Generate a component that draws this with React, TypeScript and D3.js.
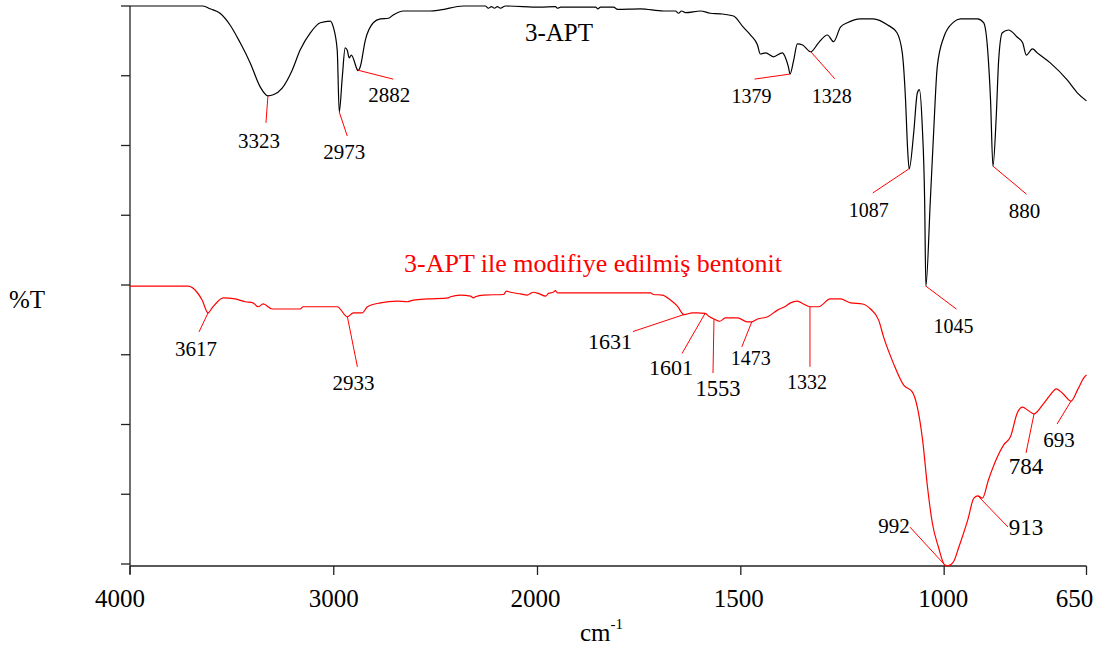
import React from 'react';
import * as d3 from 'd3';

// ---------- DATA ----------
const xTickValues = [4000, 3000, 2000, 1500, 1000, 650];
const xTickLabels = ['4000', '3000', '2000', '1500', '1000', '650'];
const yTickValues = [0, 12.5, 25, 37.5, 50, 62.5, 75, 87.5, 100];

const seriesNames = ['3-APT', '3-APT ile modifiye edilmiş bentonit'];
const yAxisTitle = '%T';
const xAxisTitle = 'cm';
const xAxisTitleSup = '-1';

// 3-APT spectrum: [wavenumber cm-1, %T]
const aptSpectrum: [number, number][] = [
  [4000, 100], [3641, 100], [3607, 99.5], [3558, 98.7], [3509, 96.6], [3459, 93.4], [3410, 89.8],
  [3361, 85.5], [3323, 83.9], [3297, 84.1], [3253, 85.3], [3204, 88.5], [3165, 92.1], [3115, 95.2],
  [3066, 97.0], [3017, 97.3], [3002, 96.2], [2983, 92.1], [2973, 81.0], [2958, 87.3], [2944, 92.5],
  [2934, 92.1], [2924, 90.7], [2914, 91.2], [2885, 88.6], [2882, 88.4], [2870, 89.1], [2845, 93.9],
  [2806, 97.0], [2771, 97.7], [2732, 97.8], [2708, 98.4], [2658, 99.1], [2526, 99.1], [2477, 99.3],
  [2364, 100], [2256, 100], [2241, 99.6], [2226, 99.9], [2211, 99.6], [2197, 99.9], [2182, 99.6],
  [2157, 100], [1993, 99.8], [1956, 99.9], [1951, 99.6], [1943, 99.8], [1857, 99.8], [1852, 99.5],
  [1845, 99.8], [1813, 99.8], [1803, 99.4], [1747, 99.5], [1690, 99.1], [1661, 99.1], [1653, 98.7],
  [1646, 99.1], [1636, 98.8], [1599, 99.1], [1575, 98.7], [1550, 98.6], [1518, 98.2], [1494, 96.2],
  [1476, 94.8], [1459, 93.0], [1452, 91.4], [1439, 91.6], [1420, 90.9], [1398, 91.6], [1390, 90.7],
  [1383, 89.1], [1379, 87.8], [1370, 90.3], [1361, 93.2], [1348, 93.0], [1328, 91.8], [1309, 93.4],
  [1287, 94.8], [1272, 93.6], [1255, 96.2], [1238, 97.0], [1206, 97.7], [1174, 97.7], [1139, 96.6],
  [1116, 95.2], [1103, 91.6], [1095, 83.2], [1090, 74.5], [1086, 70.8], [1075, 77.2], [1066, 84.4],
  [1061, 85.0], [1054, 78.7], [1048, 65.2], [1045, 49.8], [1034, 65.2], [1026, 77.2], [1017, 89.1],
  [1001, 94.4], [977, 97.1], [960, 97.7], [918, 97.7], [903, 97.0], [893, 92.1], [886, 83.2],
  [880, 71.3], [872, 80.1], [866, 90.3], [857, 95.2], [842, 95.7], [820, 94.4], [807, 93.4],
  [798, 91.2], [783, 92.3], [771, 91.6], [739, 89.8], [697, 86.7], [672, 84.4], [650, 83.0],
];

// Bentonite modified with 3-APT: [wavenumber cm-1, %T]
const bentonitSpectrum: [number, number][] = [
  [4000, 49.8], [3715, 49.8], [3671, 48.7], [3646, 47.3], [3617, 45.0], [3597, 45.9], [3568, 47.1],
  [3543, 47.7], [3484, 47.5], [3435, 47.0], [3396, 46.8], [3371, 46.1], [3346, 46.6], [3302, 45.7],
  [3165, 45.7], [3150, 46.1], [2983, 46.1], [2933, 44.3], [2904, 45.0], [2860, 45.0], [2835, 46.1],
  [2771, 46.8], [2688, 47.1], [2639, 47.0], [2609, 47.3], [2536, 47.5], [2437, 47.7], [2427, 47.9],
  [2378, 48.2], [2329, 48.0], [2314, 47.7], [2305, 47.9], [2265, 48.2], [2167, 48.3], [2152, 48.9],
  [2133, 48.7], [2084, 48.4], [2049, 48.2], [2034, 48.5], [2020, 48.7], [1998, 48.5], [1980, 48.0],
  [1973, 48.5], [1961, 48.7], [1956, 49.0], [1951, 48.6], [1722, 48.6], [1715, 48.3], [1693, 48.2],
  [1673, 47.3], [1656, 46.2], [1640, 44.7], [1619, 45.0], [1607, 45.0], [1588, 44.9], [1577, 44.3],
  [1566, 43.9], [1552, 43.5], [1538, 44.1], [1508, 44.1], [1484, 43.4], [1473, 43.4], [1459, 43.9],
  [1434, 44.3], [1410, 45.5], [1390, 46.2], [1378, 46.8], [1361, 47.1], [1346, 46.6], [1330, 46.1],
  [1309, 46.1], [1280, 47.5], [1255, 47.5], [1230, 46.8], [1201, 46.6], [1181, 45.7], [1161, 43.7],
  [1149, 40.7], [1125, 36.0], [1100, 32.1], [1078, 30.8], [1066, 28.1], [1053, 22.2], [1041, 13.8],
  [1029, 7.3], [1014, 3.0], [998, -0.2], [990, -0.3], [977, 0.4], [964, 3.0], [942, 7.9],
  [927, 11.8], [917, 12.2], [906, 11.8], [891, 15.1], [869, 19.2], [854, 21.3], [837, 22.8],
  [820, 27.1], [807, 28.1], [795, 27.6], [779, 26.9], [758, 28.5], [739, 30.3], [724, 31.4],
  [709, 30.6], [688, 29.2], [672, 31.2], [657, 33.3], [650, 33.9],
];

// Peak annotations (label text, wavenumber of the marked point, %T of the marked point)
const aptPeakLabels = ['3323', '2973', '2882', '1379', '1328', '1087', '1045', '880'];
const aptPeakWn = [3323, 2973, 2882, 1379, 1328, 1087, 1045, 880];
const aptPeakT = [83.9, 81.0, 88.5, 87.8, 91.8, 70.8, 49.8, 71.3];

const bentPeakLabels = ['3617', '2933', '1631', '1601', '1553', '1473', '1332', '992', '913', '784', '693'];
const bentPeakWn = [3617, 2933, 1640, 1588, 1566, 1473, 1330, 998, 917, 779, 688];
const bentPeakT = [45.0, 44.3, 44.7, 44.9, 43.9, 43.4, 46.1, -0.2, 12.2, 26.9, 29.2];

// ---------- LAYOUT ----------
const W = 1112;
const H = 651;
const FONT = '"Liberation Serif", "Times New Roman", serif';

// leader line end offset (dx, dy), label centre/baseline offset (dx, dy), font size
const aptPeakLayout = [
  [-2, 27, -9, 52, 21],
  [8, 24, 5, 47, 21],
  [35.5, 9, 31.5, 32, 21],
  [-35.5, 5, -38.5, 29, 20],
  [24, 27, 21, 51, 20],
  [-36, 24, -40, 48, 20],
  [30.6, 23, 27.6, 47, 20],
  [33.5, 28, 31.5, 52, 21],
];
const bentPeakLayout = [
  [-9, 19, -12, 43, 21],
  [10, 50, 6, 73, 21],
  [-51, 17, -74, 34, 22],
  [-23, 40, -34, 62, 22],
  [-1, 54, 4, 77, 22.5],
  [-10, 25, -1, 43, 20],
  [0, 60, -3, 82, 20],
  [-35, -38, -51, -32, 21],
  [30, 31, 48, 39, 23],
  [-8, 39, -8, 60, 23],
  [-14, 23, -12, 46, 21],
];
const xLabelDx = [-10, 0, -2, -2, -1, -12];

export default function App() {
  const x = d3.scaleLinear().domain([4000, 2000, 650]).range([130, 537.5, 1086.5]);
  const y = d3.scaleLinear().domain([0, 100]).range([564, 6]);
  const axisY = 566;
  const axisX = 130;

  const line = d3
    .line<[number, number]>()
    .x((d) => x(d[0]))
    .y((d) => y(d[1]))
    .curve(d3.curveMonotoneX);

  const renderPeaks = (
    labels: string[],
    wns: number[],
    ts: number[],
    layout: number[][],
    key: string
  ) =>
    labels.map((lab, i) => {
      const ax = x(wns[i]);
      const ay = y(ts[i]);
      const [ldx, ldy, tdx, tdy, fs] = layout[i];
      return (
        <g key={key + i}>
          <line x1={ax} y1={ay} x2={ax + ldx} y2={ay + ldy} stroke="#ff0000" strokeWidth={1} />
          <text
            x={ax + tdx}
            y={ay + tdy}
            textAnchor="middle"
            fontFamily={FONT}
            fontSize={fs}
            fill="#000"
          >
            {lab}
          </text>
        </g>
      );
    });

  return (
    <svg
      width={W}
      height={H}
      style={{ position: 'absolute', left: 0, top: 0, background: '#fff' }}
    >
      <rect x={0} y={0} width={W} height={H} fill="#fff" />
      {/* axes */}
      <line x1={axisX} y1={y(100)} x2={axisX} y2={axisY + 8} stroke="#222" strokeWidth={1.3} />
      <line x1={axisX} y1={axisY} x2={x(650)} y2={axisY} stroke="#222" strokeWidth={1.3} />
      {yTickValues.map((v) => (
        <line key={'yt' + v} x1={axisX - 9} y1={y(v)} x2={axisX} y2={y(v)} stroke="#222" strokeWidth={1.3} />
      ))}
      {xTickValues.map((v, i) => (
        <g key={'xt' + v}>
          <line x1={x(v)} y1={axisY} x2={x(v)} y2={axisY + 9} stroke="#222" strokeWidth={1.3} />
          <text
            x={x(v) + xLabelDx[i]}
            y={607}
            textAnchor="middle"
            fontFamily={FONT}
            fontSize={25}
            fill="#000"
          >
            {xTickLabels[i]}
          </text>
        </g>
      ))}
      <text x={580} y={641} fontFamily={FONT} fontSize={25} fill="#000">
        {xAxisTitle}
        <tspan dy={-12} fontSize={15}>
          {xAxisTitleSup}
        </tspan>
      </text>
      <text x={9} y={308} fontFamily={FONT} fontSize={25} fill="#000">
        {yAxisTitle}
      </text>

      {/* spectra */}
      <path d={line(aptSpectrum) || ''} fill="none" stroke="#000" strokeWidth={1.2} />
      <path d={line(bentonitSpectrum) || ''} fill="none" stroke="#ff0000" strokeWidth={1.2} />

      {/* series titles */}
      <text x={559} y={41} textAnchor="middle" fontFamily={FONT} fontSize={25} fill="#000">
        {seriesNames[0]}
      </text>
      <text x={593} y={272} textAnchor="middle" fontFamily={FONT} fontSize={26} fill="#ff0000">
        {seriesNames[1]}
      </text>

      {renderPeaks(aptPeakLabels, aptPeakWn, aptPeakT, aptPeakLayout, 'ap')}
      {renderPeaks(bentPeakLabels, bentPeakWn, bentPeakT, bentPeakLayout, 'bp')}
    </svg>
  );
}
